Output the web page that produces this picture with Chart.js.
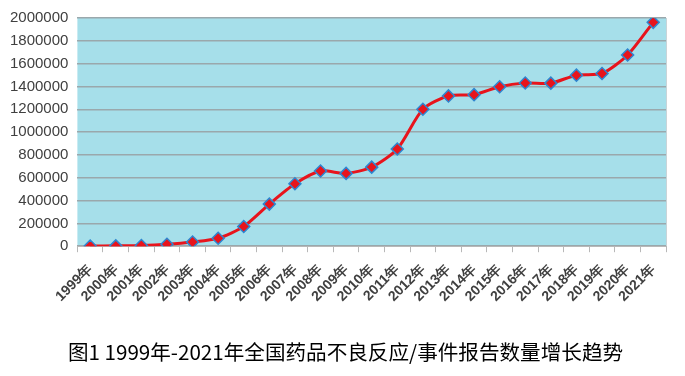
<!DOCTYPE html>
<html>
<head>
    <title>ADR Reports</title>
    <script src="https://cdn.jsdelivr.net/npm/chart.js"></script>
    <style>
        body { margin: 0; background: #fff; }
        .chart-container {
            position: relative;
            width: 685px;
            height: 376px;
        }
        .caption {
            position: absolute;
            left: 3px;
            top: 338px;
            width: 685px;
            text-align: center;
            font-family: 'Noto Sans CJK SC';
            font-size: 20.6px;
            line-height: 26px;
            color: #000;
        }
    </style>
</head>
<body>
    <div class="chart-container">
        <canvas id="chartjs"></canvas>
        <div class="caption" id="caption"></div>
    </div>

    <script>
        const years = ['1999年', '2000年', '2001年', '2002年', '2003年', '2004年', '2005年', '2006年',
            '2007年', '2008年', '2009年', '2010年', '2011年', '2012年', '2013年', '2014年', '2015年',
            '2016年', '2017年', '2018年', '2019年', '2020年', '2021年'];
        const reportCounts = [1000, 3000, 6000, 17000, 37000, 70000, 173000, 369000, 547000, 659000, 638000,
            693000, 852000, 1200000, 1317000, 1328000, 1398000, 1430000, 1429000, 1499000, 1514000,
            1676000, 1962000];
        const yTicks = [0, 200000, 400000, 600000, 800000, 1000000, 1200000, 1400000, 1600000, 1800000, 2000000];
        const captionText = '图1 1999年-2021年全国药品不良反应/事件报告数量增长趋势';

        document.getElementById('caption').textContent = captionText;

        // light blue plot area plus a faint right edge
        const plotBg = {
            id: 'plotBg',
            beforeDraw: (chart) => {
                const a = chart.chartArea;
                const ctx = chart.ctx;
                ctx.save();
                ctx.fillStyle = '#A6DFEA';
                ctx.fillRect(a.left, a.top, a.right - a.left, a.bottom - a.top);
                ctx.strokeStyle = '#C8D4D8';
                ctx.lineWidth = 1;
                ctx.beginPath();
                ctx.moveTo(a.right + 0.5, a.top);
                ctx.lineTo(a.right + 0.5, a.bottom);
                ctx.stroke();
                ctx.restore();
            }
        };

        const ctx = document.getElementById('chartjs').getContext('2d');
        new Chart(ctx, {
            type: 'line',
            data: {
                labels: years,
                datasets: [{
                    label: '报告数量',
                    data: reportCounts,
                    borderColor: '#E8141C',
                    borderWidth: 3,
                    tension: 0.25,
                    pointStyle: 'rectRot',
                    pointRadius: 6,
                    pointBackgroundColor: '#E8141C',
                    pointBorderColor: '#2E86D0',
                    pointBorderWidth: 1.5,
                    fill: false
                }]
            },
            plugins: [plotBg],
            options: {
                responsive: true,
                maintainAspectRatio: false,
                animation: false,
                layout: {
                    padding: { top: 14, right: 19, left: 1, bottom: 62 }
                },
                scales: {
                    x: {
                        offset: true,
                        grid: {
                            offset: true,
                            drawOnChartArea: false,
                            drawTicks: true,
                            tickLength: 6,
                            color: '#B8B8B8'
                        },
                        border: { color: '#B8B8B8', width: 1 },
                        ticks: {
                            maxRotation: 45,
                            minRotation: 45,
                            autoSkip: false,
                            color: '#404040',
                            padding: 9,
                            font: { family: 'Liberation Sans', size: 14, weight: 'bold' }
                        }
                    },
                    y: {
                        min: 0,
                        max: 2000000,
                        afterBuildTicks: (axis) => {
                            axis.ticks = yTicks.map(v => ({ value: v }));
                        },
                        grid: {
                            color: '#9AA8AC',
                            lineWidth: 1.5,
                            drawTicks: false
                        },
                        border: { display: false },
                        ticks: {
                            color: '#404040',
                            padding: 9,
                            font: { family: 'Liberation Sans', size: 15 },
                            callback: (value) => String(value)
                        }
                    }
                },
                plugins: {
                    legend: { display: false },
                    tooltip: { enabled: false }
                }
            }
        });
    </script>
</body>
</html>
